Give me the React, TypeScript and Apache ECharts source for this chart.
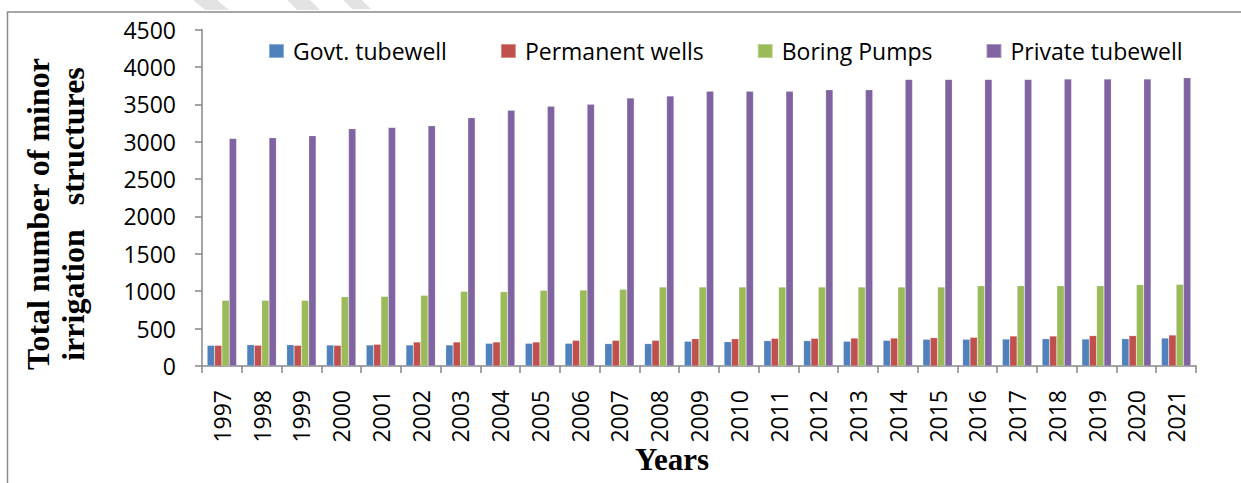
import React, { useEffect, useRef } from "react";
import * as echarts from "echarts";

const years = ["1997","1998","1999","2000","2001","2002","2003","2004","2005","2006","2007","2008","2009","2010","2011","2012","2013","2014","2015","2016","2017","2018","2019","2020","2021"];
const govtTubewell = [276,285,285,281,281,281,281,303,303,303,299,299,330,325,339,339,330,343,357,357,361,365,361,365,374];
const permanentWells = [276,276,276,276,290,321,321,321,321,343,343,343,365,365,370,370,374,374,379,383,401,401,406,406,414];
const boringPumps = [878,878,878,927,931,945,998,994,1012,1016,1025,1056,1056,1056,1056,1056,1056,1056,1056,1074,1074,1074,1074,1088,1092];
const privateTubewell = [3044,3053,3080,3174,3191,3214,3321,3419,3472,3499,3584,3610,3673,3673,3673,3695,3695,3833,3833,3833,3833,3837,3837,3837,3855];

const seriesNames = ["Govt. tubewell", "Permanent wells", "Boring Pumps", "Private tubewell"];
const seriesColors = ["#4F81BD", "#C0504D", "#9BBB59", "#8064A2"];
const seriesData = [govtTubewell, permanentWells, boringPumps, privateTubewell];

const FONT = '"Open Sans", "Noto Sans", sans-serif';
const SERIF = '"Liberation Serif", "DejaVu Serif", serif';

export default function App() {
  const ref = useRef<HTMLDivElement>(null);
  useEffect(() => {
    document.body.style.margin = "0";
    const chart = echarts.init(ref.current!, null, { renderer: "svg" });
    const axisColor = "#878787";
    chart.setOption({
      animation: false,
      backgroundColor: "#ffffff",
      grid: { left: 202, right: 45, top: 29.5, bottom: 117, containLabel: false },
      legend: {
        left: 268,
        top: 39,
        padding: 0,
        itemWidth: 15,
        itemHeight: 14,
        itemGap: 53,
        icon: "rect",
        data: seriesNames,
        textStyle: { fontFamily: FONT, fontSize: 23, color: "#000", padding: [0, 0, 0, 4], lineHeight: 24 },
      },
      xAxis: {
        type: "category",
        data: years,
        axisLine: { lineStyle: { color: axisColor, width: 1.5 } },
        axisTick: { show: true, length: 7, lineStyle: { color: axisColor, width: 1.5 } },
        axisLabel: { rotate: 90, margin: 24, fontFamily: FONT, fontSize: 23, color: "#000", interval: 0 },
      },
      yAxis: {
        type: "value",
        min: 0,
        max: 4500,
        interval: 500,
        axisLine: { show: true, lineStyle: { color: axisColor, width: 1.5 } },
        axisTick: { show: true, length: 7, lineStyle: { color: axisColor, width: 1.5 } },
        splitLine: { show: false },
        axisLabel: { margin: 26, fontFamily: FONT, fontSize: 23, color: "#000", formatter: (v: number) => String(v) },
      },
      graphic: [
        {
          type: "polyline",
          shape: { points: [[7.5, 483], [7.5, 12], [1241, 12]] },
          style: { stroke: "#8a8a8a", lineWidth: 1.5, fill: "none" },
        },
        { type: "polygon", shape: { points: [[193, 0], [217, 0], [229, 10], [205, 10]] }, style: { fill: "#e3e3e3" } },
        { type: "polygon", shape: { points: [[287, 0], [310, 0], [320, 10], [297, 10]] }, style: { fill: "#e3e3e3" } },
        { type: "polygon", shape: { points: [[343, 0], [362, 0], [371, 9], [352, 9]] }, style: { fill: "#e3e3e3" } },
        {
          type: "text",
          x: 55,
          y: 214,
          rotation: Math.PI / 2,
          style: {
            text: "Total number of minor\nirrigation   structures",
            font: `bold 32px ${SERIF}`,
            fill: "#000",
            align: "center",
            verticalAlign: "middle",
            lineHeight: 35,
          },
        },
        {
          type: "text",
          x: 672,
          y: 459,
          style: {
            text: "Years",
            font: `bold 31px ${SERIF}`,
            fill: "#000",
            align: "center",
            verticalAlign: "middle",
          },
        },
      ],
      series: seriesNames.map((name, i) => ({
        name,
        type: "bar",
        data: seriesData[i],
        barGap: "0%",
        barCategoryGap: "26%",
        itemStyle: { color: seriesColors[i], borderColor: "rgba(255,255,255,0.35)", borderWidth: 0.5 },
      })),
    });
    return () => chart.dispose();
  }, []);
  return <div ref={ref} style={{ width: 1241, height: 483 }} />;
}
